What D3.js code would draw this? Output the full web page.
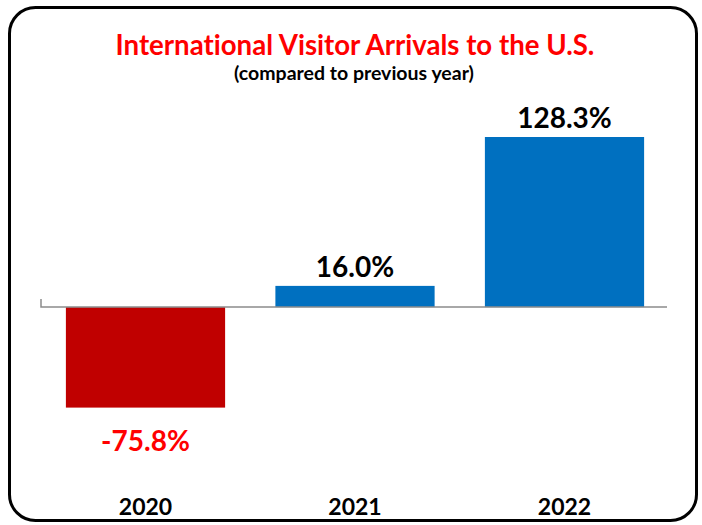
<!DOCTYPE html>
<html><head><meta charset="utf-8">
<script src="https://cdn.jsdelivr.net/npm/d3@7/dist/d3.min.js"></script>
<style>body{margin:0;background:#fff}svg{display:block}text{font-family:Lato,"Open Sans",sans-serif;font-weight:bold;font-variant-ligatures:none;font-feature-settings:"liga" 0,"dlig" 0}</style>
</head><body>
<script>
const categories = ["2020","2021","2022"];
const values = [-75.8, 16.0, 128.3];
const valueLabels = ["-75.8%","16.0%","128.3%"];
const titleText = "International Visitor Arrivals to the U.S.";
const subtitleText = "(compared to previous year)";

const W = 702, H = 525;
const svg = d3.select("body").append("svg").attr("width", W).attr("height", H);

svg.append("rect").attr("x", 9.5).attr("y", 7.5).attr("width", 687).attr("height", 513)
  .attr("rx", 26).attr("ry", 26).attr("fill", "#fff").attr("stroke", "#000").attr("stroke-width", 3);

svg.append("text").attr("x", 355).attr("y", 55).attr("text-anchor", "middle")
  .attr("fill", "#ff0000").attr("font-size", 27.6).text(titleText);
svg.append("text").attr("x", 354).attr("y", 80).attr("text-anchor", "middle")
  .attr("fill", "#000").attr("font-size", 19.5).text(subtitleText);

const x = d3.scaleBand().domain(categories).range([40.75, 669.25]).paddingInner(0.24).paddingOuter(0.12);
const y = d3.scaleLinear().domain([-75.8, 128.3]).range([407.6, 137]);

svg.selectAll("rect.bar").data(values).join("rect").attr("class", "bar")
  .attr("x", (d, i) => x(categories[i]))
  .attr("width", x.bandwidth())
  .attr("y", d => y(Math.max(0, d)))
  .attr("height", d => Math.abs(y(d) - y(0)))
  .attr("fill", d => d < 0 ? "#c00000" : "#0070c0");

// axis line
const y0 = y(0);
svg.append("path").attr("d", `M41,${y0-8}V${y0}H667`).attr("fill", "none")
  .attr("stroke", "#8c8c8c").attr("stroke-width", 1.5);

svg.selectAll("text.val").data(values).join("text").attr("class", "val")
  .attr("x", (d, i) => x(categories[i]) + x.bandwidth() / 2)
  .attr("y", d => d < 0 ? y(d) + 43 : y(d) - 9)
  .attr("text-anchor", "middle").attr("font-size", 28)
  .attr("fill", d => d < 0 ? "#ff0000" : "#000")
  .text((d, i) => valueLabels[i]);

svg.selectAll("text.cat").data(categories).join("text").attr("class", "cat")
  .attr("x", d => x(d) + x.bandwidth() / 2)
  .attr("y", 515).attr("text-anchor", "middle").attr("font-size", 23)
  .attr("fill", "#000").text(d => d);
</script>
</body></html>
